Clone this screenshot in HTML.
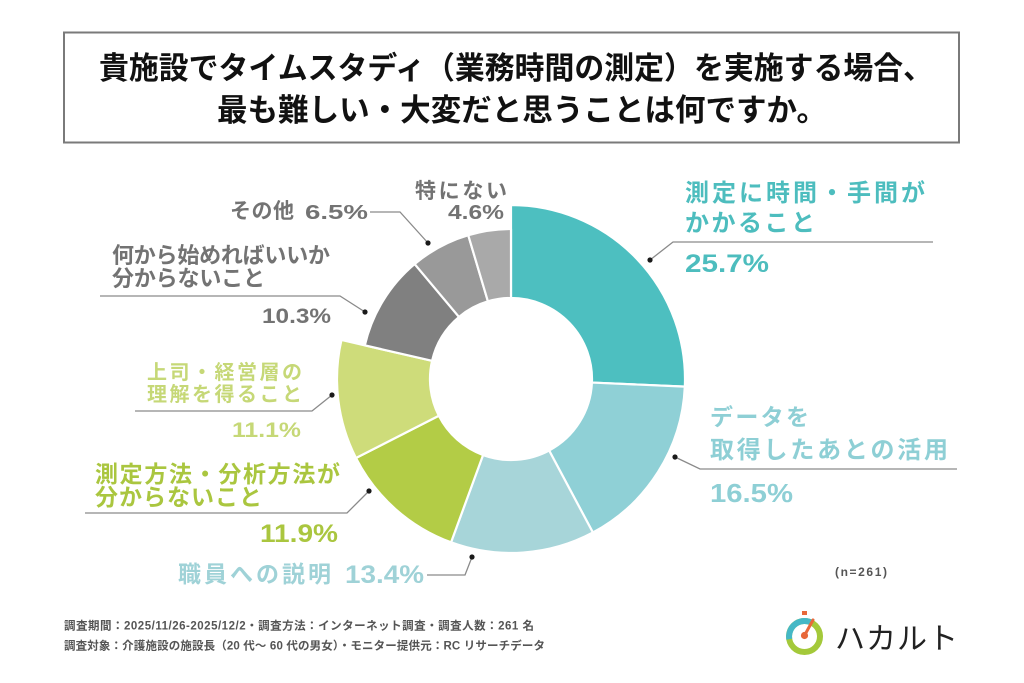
<!DOCTYPE html>
<html><head><meta charset="utf-8">
<style>
html,body{margin:0;padding:0;background:#fff;}
svg{display:block;}
text{font-family:"Liberation Sans","Noto Sans CJK JP",sans-serif;}
.b{font-weight:bold;}
</style></head>
<body>
<svg width="1024" height="683" viewBox="0 0 1024 683" xmlns="http://www.w3.org/2000/svg">
<rect x="0" y="0" width="1024" height="683" fill="#fff"/>
<!-- title box -->
<rect x="64" y="32.5" width="895" height="110" fill="#fff" stroke="#7a7a7a" stroke-width="2"/>
<text class="b" x="99" y="79" font-size="31" fill="#111" textLength="834" lengthAdjust="spacingAndGlyphs">貴施設でタイムスタディ（業務時間の測定）を実施する場合、</text>
<text class="b" x="217" y="121" font-size="31" fill="#111" textLength="610" lengthAdjust="spacingAndGlyphs">最も難しい・大変だと思うことは何ですか。</text>

<!-- donut -->
<g stroke="#fff" stroke-width="2.2" stroke-linejoin="round">
<path d="M511,205 A174,174 0 0 1 684.83,386.65 L591.92,382.56 A81,81 0 0 0 511,298 Z" fill="#4dbfc0"/>
<path d="M684.83,386.65 A174,174 0 0 1 592.90,532.52 L549.13,450.47 A81,81 0 0 0 591.92,382.56 Z" fill="#8fd0d6"/>
<path d="M592.90,532.52 A174,174 0 0 1 451.03,542.34 L483.08,455.04 A81,81 0 0 0 549.13,450.47 Z" fill="#a7d5d9"/>
<path d="M451.03,542.34 A174,174 0 0 1 355.96,458.0 L438.83,415.77 A81,81 0 0 0 483.08,455.04 Z" fill="#b3cc46"/>
<path d="M355.96,458.0 A174,174 0 0 1 341.43,339.98 L432.06,360.83 A81,81 0 0 0 438.83,415.77 Z" fill="#cedc7a"/>
<path d="M364.82,345.36 A150,150 0 0 1 414.66,264.02 L458.98,316.91 A81,81 0 0 0 432.06,360.83 Z" fill="#808080"/>
<path d="M414.66,264.02 A150,150 0 0 1 468.25,235.22 L487.91,301.36 A81,81 0 0 0 458.98,316.91 Z" fill="#999999"/>
<path d="M468.25,235.22 A150,150 0 0 1 511,229 L511,298 A81,81 0 0 0 487.91,301.36 Z" fill="#a9a9a9"/>
</g>

<!-- leader lines -->
<g fill="none" stroke="#8a8a8a" stroke-width="1.3">
<polyline points="650,260 673,242 933,242"/>
<polyline points="675,457 700,469 957,469"/>
<polyline points="427,575 465,575 472,557"/>
<polyline points="85,513 347,513 369,491"/>
<polyline points="135,411 312,411 332,395"/>
<polyline points="100,296 340,296 365,312"/>
<polyline points="370,212 400,212 428,243"/>
</g>
<g fill="#1a1a1a">
<circle cx="650" cy="260" r="2.6"/>
<circle cx="675" cy="457" r="2.6"/>
<circle cx="472" cy="557" r="2.6"/>
<circle cx="369" cy="491" r="2.6"/>
<circle cx="332" cy="395" r="2.6"/>
<circle cx="365" cy="312" r="2.6"/>
<circle cx="428" cy="243" r="2.6"/>
</g>

<!-- right labels -->
<g fill="#4dbdbe">
<text class="b" x="685" y="201" font-size="24" textLength="240" lengthAdjust="spacing">測定に時間・手間が</text>
<text class="b" x="685" y="231" font-size="24" textLength="130" lengthAdjust="spacing">かかること</text>
<text class="b" x="685" y="272" font-size="25" textLength="84" lengthAdjust="spacingAndGlyphs">25.7%</text>
</g>
<g fill="#8ecfd5">
<text class="b" x="710" y="425" font-size="23" textLength="99" lengthAdjust="spacing">データを</text>
<text class="b" x="710" y="458" font-size="24" textLength="238" lengthAdjust="spacing">取得したあとの活用</text>
<text class="b" x="710" y="502" font-size="26" textLength="83" lengthAdjust="spacingAndGlyphs">16.5%</text>
</g>
<g fill="#9fd2d7">
<text class="b" x="178" y="582" font-size="23" textLength="153" lengthAdjust="spacing">職員への説明</text>
<text class="b" x="345" y="583" font-size="25" textLength="79" lengthAdjust="spacingAndGlyphs">13.4%</text>
</g>
<g fill="#aac63f">
<text class="b" x="95" y="482" font-size="23" textLength="245" lengthAdjust="spacing">測定方法・分析方法が</text>
<text class="b" x="95" y="505" font-size="23" textLength="167" lengthAdjust="spacing">分からないこと</text>
<text class="b" x="260" y="542" font-size="25" textLength="78" lengthAdjust="spacingAndGlyphs">11.9%</text>
</g>
<g fill="#c6d877">
<text class="b" x="147" y="379" font-size="20" textLength="155" lengthAdjust="spacing">上司・経営層の</text>
<text class="b" x="147" y="401" font-size="20" textLength="155" lengthAdjust="spacing">理解を得ること</text>
<text class="b" x="232" y="437" font-size="21" textLength="69" lengthAdjust="spacingAndGlyphs">11.1%</text>
</g>
<g fill="#737373">
<text class="b" x="112" y="263" font-size="22" textLength="218" lengthAdjust="spacing">何から始めればいいか</text>
<text class="b" x="112" y="286" font-size="22" textLength="153" lengthAdjust="spacing">分からないこと</text>
<text class="b" x="262" y="323" font-size="21" textLength="69" lengthAdjust="spacingAndGlyphs">10.3%</text>
<text class="b" x="230" y="218" font-size="21" textLength="64" lengthAdjust="spacing">その他</text>
<text class="b" x="305" y="219" font-size="20" textLength="63" lengthAdjust="spacingAndGlyphs">6.5%</text>
<text class="b" x="415" y="198" font-size="21" textLength="92" lengthAdjust="spacing">特にない</text>
<text class="b" x="448" y="219" font-size="20" textLength="56" lengthAdjust="spacingAndGlyphs">4.6%</text>
</g>

<!-- n -->
<text class="b" x="835" y="576" font-size="12" fill="#555" textLength="52" lengthAdjust="spacing">(n=261)</text>

<!-- footer -->
<text class="b" x="64" y="629.5" font-size="11.5" fill="#555" textLength="470" lengthAdjust="spacing">調査期間：2025/11/26-2025/12/2・調査方法：インターネット調査・調査人数：261 名</text>
<text class="b" x="64" y="649.5" font-size="11.5" fill="#555" textLength="481" lengthAdjust="spacing">調査対象：介護施設の施設長（20 代～ 60 代の男女）・モニター提供元：RC リサーチデータ</text>

<!-- logo -->
<g>
<rect x="802" y="611" width="5" height="4" fill="#e8683a"/>
<circle cx="804.5" cy="636.5" r="15.5" fill="none" stroke="#a4c93a" stroke-width="6"/>
<path d="M789.3,639.2 A15.5,15.5 0 0 1 812.3,623.1" fill="none" stroke="#45b8c6" stroke-width="6"/>
<line x1="804.5" y1="635.5" x2="813" y2="620" stroke="#e8683a" stroke-width="3" stroke-linecap="round"/>
<circle cx="804.5" cy="635.5" r="3.6" fill="#e8683a"/>
<text x="835" y="649" font-size="30" fill="#222" textLength="123" lengthAdjust="spacing">ハカルト</text>
</g>
</svg>
</body></html>
